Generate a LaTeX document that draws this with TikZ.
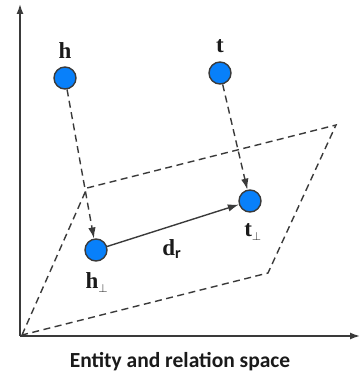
\documentclass[tikz,border=0pt]{standalone}
\usepackage{fontspec}
\usepackage{xcolor}
\usepackage{tikz}
\usetikzlibrary{arrows.meta, positioning, calc}
\newfontfamily\capfont{Carlito}
\newfontfamily\labfont{Liberation Serif}
\definecolor{PInk}{HTML}{1A1A1A}
\definecolor{PLine}{HTML}{3A3A3A}
\definecolor{PBlue}{HTML}{0880FA}
\newcommand{\vlab}[1]{{\labfont\bfseries #1}}

\begin{document}
\begin{tikzpicture}[
  x=1pt, y=1pt,
  ent/.style={circle, draw=PLine, line width=1.4pt, fill=PBlue,
              minimum size=22pt, inner sep=0pt},
  lbl/.style={text=PInk, inner sep=1pt, font=\fontsize{23}{25}\selectfont},
  axis/.style={-{Latex[length=10pt,width=7pt]}, draw=PLine, line width=1.5pt},
  plane/.style={draw=PLine, line width=1.4pt, dash pattern=on 7pt off 4.5pt},
  proj/.style={-{Latex[length=11pt,width=7.5pt]}, draw=PLine, line width=1.4pt,
               dash pattern=on 7pt off 4.5pt},
  rel/.style={-{Latex[length=11pt,width=7.5pt]}, draw=PLine, line width=1.4pt},
]
\useasboundingbox (0,0) rectangle (360,376);

% ── axes ─────────────────────────────────────────────────────────────────
\coordinate (o)  at (20,40);
\coordinate (ya) at (20,372);
\coordinate (xa) at (360,40);
\draw[axis] (o) -- (ya);
\draw[axis] (o) -- (xa);

% ── relation hyperplane ──────────────────────────────────────────────────
\coordinate (p0) at (22,41);
\coordinate (p1) at (87,188);
\coordinate (p2) at (336,251);
\coordinate (p3) at (268,103);
\draw[plane] (p0) -- (p1) -- (p2) -- (p3) -- cycle;

% ── entities and their projections ───────────────────────────────────────
\node[ent] (h)  at (65,298)  {};
\node[ent] (t)  at (220,303) {};
\node[ent] (hp) at (96,126)  {};
\node[ent] (tp) at (250,175) {};

\node[lbl, above=7pt of h]  {\vlab{h}};
\node[lbl, above=7pt of t]  {\vlab{t}};
\node[lbl, below=10pt of hp, xshift=1pt] {\vlab{h}$_{\scriptscriptstyle\perp}$};
\node[lbl, below=10pt of tp, xshift=3pt] {\vlab{t}$_{\scriptscriptstyle\perp}$};

\draw[proj] (h) -- (hp);
\draw[proj] (t) -- (tp);
\draw[rel]  (hp) -- (tp)
  node[lbl, pos=0.49, below=12pt]
  {\vlab{d}\raisebox{-3pt}{\capfont\bfseries\fontsize{16}{17}\selectfont r}};

% ── caption ──────────────────────────────────────────────────────────────
\node[lbl, font=\capfont\bfseries\fontsize{21.5}{23}\selectfont] (cap)
  at (180,14) {Entity and relation space};

\end{tikzpicture}
\end{document}
